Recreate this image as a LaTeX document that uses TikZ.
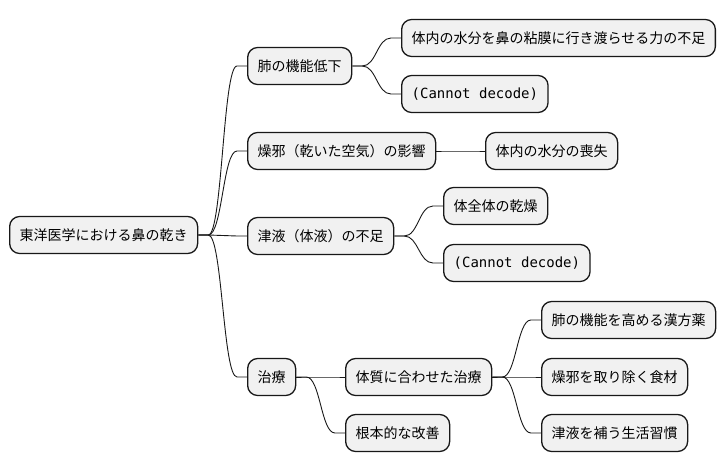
\documentclass[tikz,border=0pt]{standalone}
\usepackage{fontspec}
\newfontfamily\jpfont{Noto Sans CJK JP}
\newfontfamily\monofont{DejaVu Sans Mono}

\definecolor{boxfill}{HTML}{F1F1F1}
\definecolor{boxline}{HTML}{181818}

\tikzset{
  mmbox/.style={draw=boxline, fill=boxfill, line width=1.3pt, rounded corners=10pt,
    anchor=west, minimum height=37pt, inner xsep=10pt, inner ysep=0pt,
    font=\jpfont\fontsize{14}{16}\selectfont},
  mmcode/.style={mmbox, font=\monofont\fontsize{14}{16}\selectfont},
  mmline/.style={draw=boxline, line width=0.9pt}
}

% branch: short stub, s-curve, short stub
\newcommand{\mmedge}[2]{%
  \draw[mmline] (#1.east) -- ++(10,0) .. controls +(14,0) and +(-14,0) .. ([xshift=-10pt]#2.west) -- (#2.west);}

\begin{document}
\begin{tikzpicture}[x=1pt, y=-1pt]
\useasboundingbox (0,0) rectangle (726,471);

% root
\node[mmbox] (root) at (9,235) {東洋医学における鼻の乾き};

% first level
\node[mmbox] (lung) at (247,66) {肺の機能低下};
\node[mmbox] (dry) at (247,151) {燥邪（乾いた空気）の影響};
\node[mmbox] (fluid) at (247,236) {津液（体液）の不足};
\node[mmbox] (cure) at (247,377) {治療};

% second level
\node[mmbox] (lungA) at (401,38) {体内の水分を鼻の粘膜に行き渡らせる力の不足};
\node[mmcode] (lungB) at (401,94) {(Cannot decode)};
\node[mmbox] (dryA) at (485,151) {体内の水分の喪失};
\node[mmbox] (fluidA) at (443,206) {体全体の乾燥};
\node[mmcode] (fluidB) at (443,263) {(Cannot decode)};
\node[mmbox] (cureA) at (345,377) {体質に合わせた治療};
\node[mmbox] (cureB) at (345,433) {根本的な改善};

% third level
\node[mmbox] (herb) at (541,320) {肺の機能を高める漢方薬};
\node[mmbox] (food) at (541,377) {燥邪を取り除く食材};
\node[mmbox] (habit) at (541,433) {津液を補う生活習慣};

\mmedge{root}{lung}
\mmedge{root}{dry}
\mmedge{root}{fluid}
\mmedge{root}{cure}
\mmedge{lung}{lungA}
\mmedge{lung}{lungB}
\mmedge{dry}{dryA}
\mmedge{fluid}{fluidA}
\mmedge{fluid}{fluidB}
\mmedge{cure}{cureA}
\mmedge{cure}{cureB}
\mmedge{cureA}{herb}
\mmedge{cureA}{food}
\mmedge{cureA}{habit}
\end{tikzpicture}
\end{document}
